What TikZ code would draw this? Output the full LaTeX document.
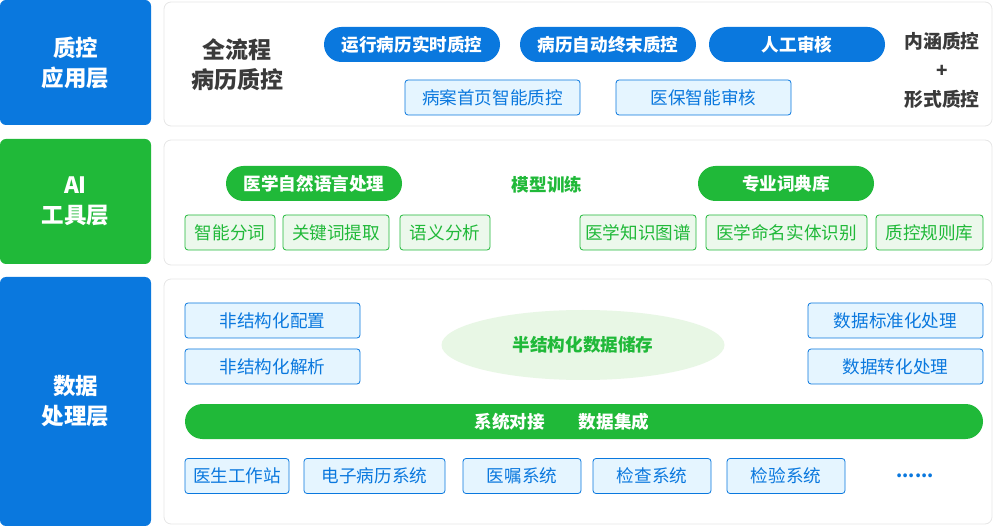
\documentclass[tikz,border=0pt]{standalone}
\usepackage{fontspec}
\setmainfont{Noto Sans CJK SC}
\usepackage{xcolor}
\usetikzlibrary{positioning,shapes.geometric}

\definecolor{qcblue}{HTML}{0A78DE}
\definecolor{qcgreen}{HTML}{20B939}
\definecolor{lblue}{HTML}{E5F5FF}
\definecolor{lgreen}{HTML}{ECF8EC}
\definecolor{egreen}{HTML}{E8F7E5}
\definecolor{pline}{HTML}{E6E6E6}
\definecolor{dtext}{HTML}{3A3A3A}

\tikzset{
  layerbox/.style={rectangle,rounded corners=6pt,minimum width=151pt,minimum height=125pt,
    text=white,align=center,font=\fontsize{22.5}{30}\selectfont\bfseries},
  panel/.style={draw=pline,fill=white,rounded corners=7pt,line width=0.8pt},
  bluepill/.style={rectangle,rounded corners=17.5pt,fill=qcblue,text=white,minimum height=35pt,
    font=\fontsize{17.6}{21}\selectfont\bfseries},
  greenpill/.style={bluepill,fill=qcgreen},
  bluecell/.style={rectangle,rounded corners=3pt,draw=qcblue,fill=lblue,text=qcblue,minimum height=35pt,
    line width=0.8pt,font=\fontsize{17.6}{21}\selectfont},
  greencell/.style={bluecell,draw=qcgreen,fill=lgreen,text=qcgreen}
}

\begin{document}
\begin{tikzpicture}[x=1pt,y=-1pt]
  \useasboundingbox (0,0) rectangle (993,526);
  % layer labels
  \node[layerbox,fill=qcblue] (app) at (75.5,62.5) {质控\\应用层};
  \node[layerbox,fill=qcgreen] (ai) at (75.5,201.5) {AI\\工具层};
  \node[layerbox,fill=qcblue,minimum height=249pt] (data) at (75.5,401.5) {数据\\处理层};
  % panels
  \draw[panel] (164,2) rectangle (992,126);
  \draw[panel] (164,140) rectangle (992,265);
  \draw[panel] (164,279) rectangle (992,524);

  % application layer
  \node[text=dtext,align=center,font=\fontsize{23}{30}\selectfont\bfseries] (whole) at (237,65) {全流程\\病历质控};
  \foreach \n/\t/\x in {run/运行病历实时质控/412, term/病历自动终末质控/608, manual/人工审核/797}{
    \node[bluepill,minimum width=176pt] (\n) at (\x,44.5) {\t};
  }
  \node[bluecell,minimum width=175pt] (home) at (492.5,97.5) {病案首页智能质控};
  \node[bluecell,minimum width=175pt] (insur) at (703.5,97.5) {医保智能审核};
  \node[text=dtext,align=center,font=\fontsize{18.8}{29}\selectfont\bfseries] (kind) at (942,70)
    {内涵质控\\+\\形式质控};

  % AI layer
  \node[greenpill,minimum width=176pt] (nlp) at (314,183.5) {医学自然语言处理};
  \node[text=qcgreen,font=\fontsize{17.6}{21}\selectfont\bfseries] (train) at (547,184.5) {模型训练};
  \node[greenpill,minimum width=176pt] (dict) at (786,183.5) {专业词典库};
  \foreach \n/\t/\x/\w in {seg/智能分词/230/90, key/关键词提取/336/106, sem/语义分析/445/90,
      kg/医学知识图谱/638/116, ner/医学命名实体识别/786.5/161, rule/质控规则库/929.5/107}{
    \node[greencell,minimum width=\w pt] (\n) at (\x,232.5) {\t};
  }

  % data layer
  \node[bluecell,minimum width=175pt] (ucfg) at (272.5,320.5) {非结构化配置};
  \node[bluecell,minimum width=175pt] (upar) at (272.5,366.5) {非结构化解析};
  \node[ellipse,fill=egreen,minimum width=283pt,minimum height=70pt,text=qcgreen,
    font=\fontsize{17.6}{21}\selectfont\bfseries] (store) at (583,345) {半结构化数据储存};
  \node[bluecell,minimum width=175pt] (norm) at (895.5,320.5) {数据标准化处理};
  \node[bluecell,minimum width=175pt] (conv) at (895.5,366.5) {数据转化处理};
  \node[greenpill,minimum width=798pt] (bus) at (584,421.5) {系统对接\hspace{34pt}数据集成\kern44pt};
  \foreach \n/\t/\x/\w in {doc/医生工作站/237/104, emr/电子病历系统/374.5/141, ord/医嘱系统/522/118,
      exam/检查系统/652/118, lab/检验系统/786/118}{
    \node[bluecell,minimum width=\w pt] (\n) at (\x,476) {\t};
  }
  \node[text=qcblue,font=\fontsize{17.6}{21}\selectfont\bfseries] (more) at (915,476) {......};
\end{tikzpicture}
\end{document}
